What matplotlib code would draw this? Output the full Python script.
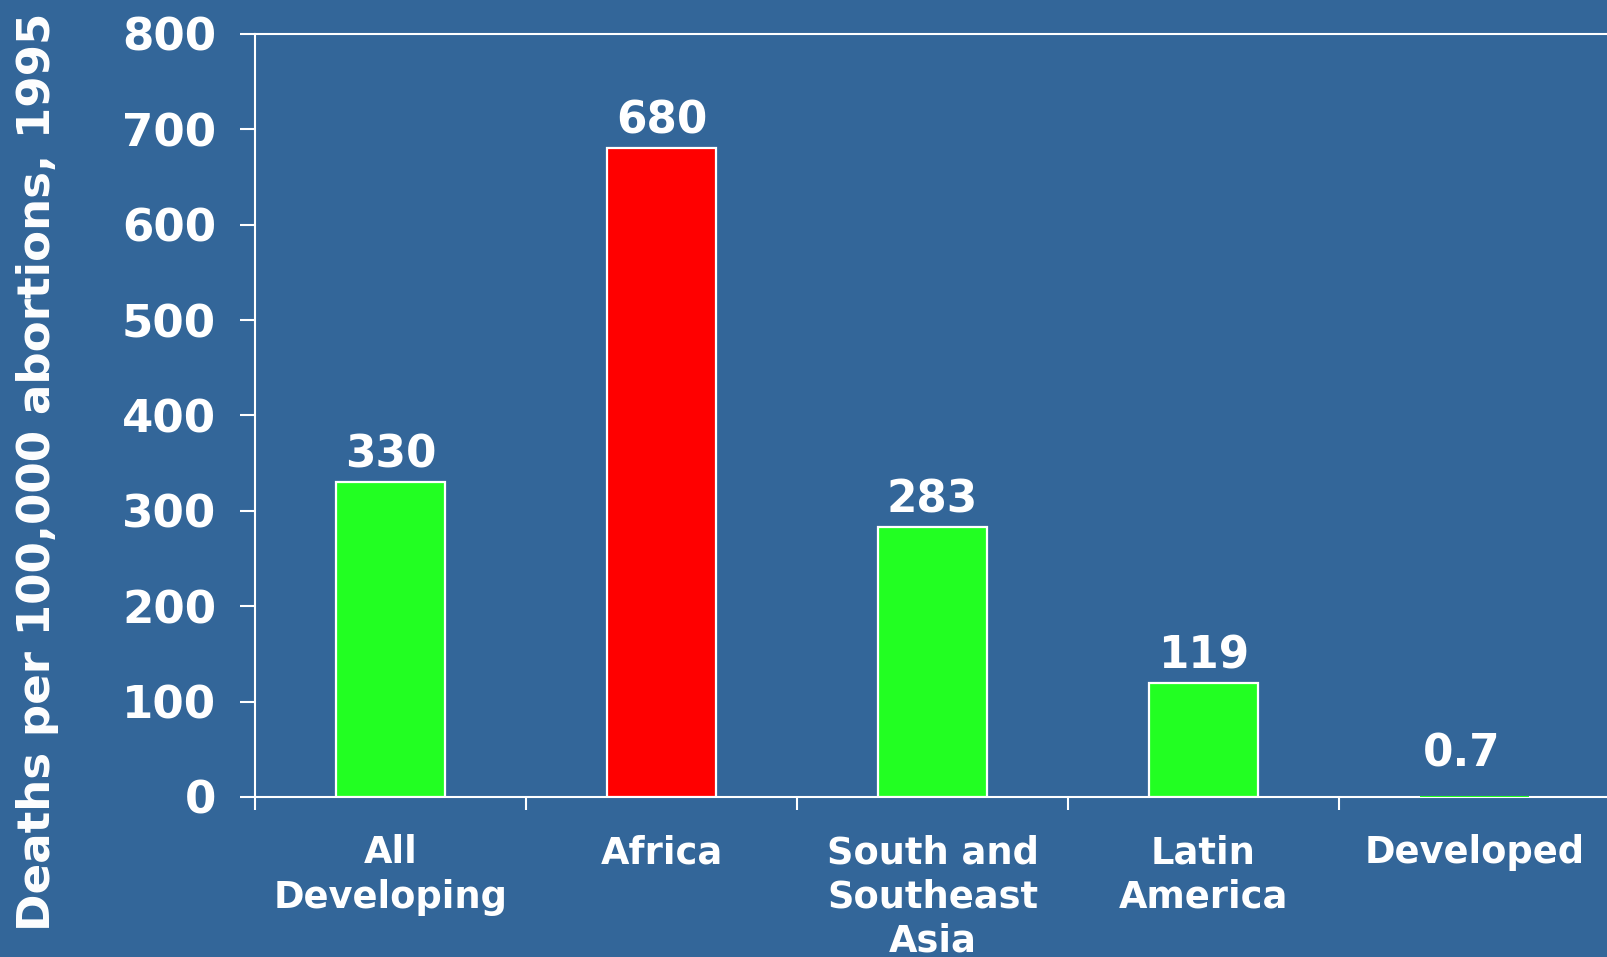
import numpy as np
import matplotlib
matplotlib.use("Agg")
import matplotlib.pyplot as plt

# --- data ---
regions = ["All\nDeveloping", "Africa", "South and\nSoutheast\nAsia", "Latin\nAmerica", "Developed"]
deaths = [330, 680, 283, 119, 0.7]
value_labels = ["330", "680", "283", "119", "0.7"]
bar_colors = ["#22FF22", "#FF0000", "#22FF22", "#22FF22", "#22FF22"]
yticks = [0, 100, 200, 300, 400, 500, 600, 700, 800]

BG = "#336699"
plt.rcParams["font.family"] = ["DejaVu Sans"]
plt.rcParams["font.weight"] = "bold"

fig = plt.figure(figsize=(16.07, 9.57), dpi=100, facecolor=BG)
ax = fig.add_axes([0.1587, 0.1672, 0.8432, 0.7973], facecolor=BG)

x = np.arange(len(regions))
# tiny bars get no outline so they don't show up as a thick line on the axis
edge_w = [1.6 if v > 2 else 0 for v in deaths]
ax.bar(x, deaths, width=0.405, color=bar_colors, edgecolor="white", linewidth=edge_w, zorder=3)

for xi, v, lab in zip(x, deaths, value_labels):
    off = 15 if v < 5 else 4
    dx = -9 if v < 5 else 0
    ax.annotate(lab, (xi, v), xytext=(dx, off), textcoords="offset points",
                ha="center", va="bottom", color="white", fontsize=31.5, fontweight="bold")

ax.set_xlim(-0.5, len(regions) - 0.5)
ax.set_ylim(0, 800)
ax.set_yticks(yticks)
ax.set_yticklabels([str(t) for t in yticks])

# category names centred, tick marks at category boundaries
ax.set_xticks(x)
ax.set_xticklabels(regions, linespacing=1.25)
ax.set_xticks(np.arange(len(regions)) - 0.5, minor=True)
ax.tick_params(axis="x", which="major", length=0, pad=27, labelsize=26.5, labelcolor="white")
ax.tick_params(axis="x", which="minor", length=9, width=1.5, color="white", direction="out")
ax.tick_params(axis="y", length=11, width=1.5, color="white", direction="out",
               pad=17, labelsize=32.5, labelcolor="white")

for side in ["left", "bottom", "top"]:
    ax.spines[side].set_color("white")
    ax.spines[side].set_linewidth(1.5)
ax.spines["right"].set_visible(False)

fig.text(0.0236, 0.507, "Deaths per 100,000 abortions, 1995", rotation=90,
         ha="center", va="center", color="white", fontsize=32.5, fontweight="bold")

fig.savefig("out.png", dpi=100, facecolor=BG)
